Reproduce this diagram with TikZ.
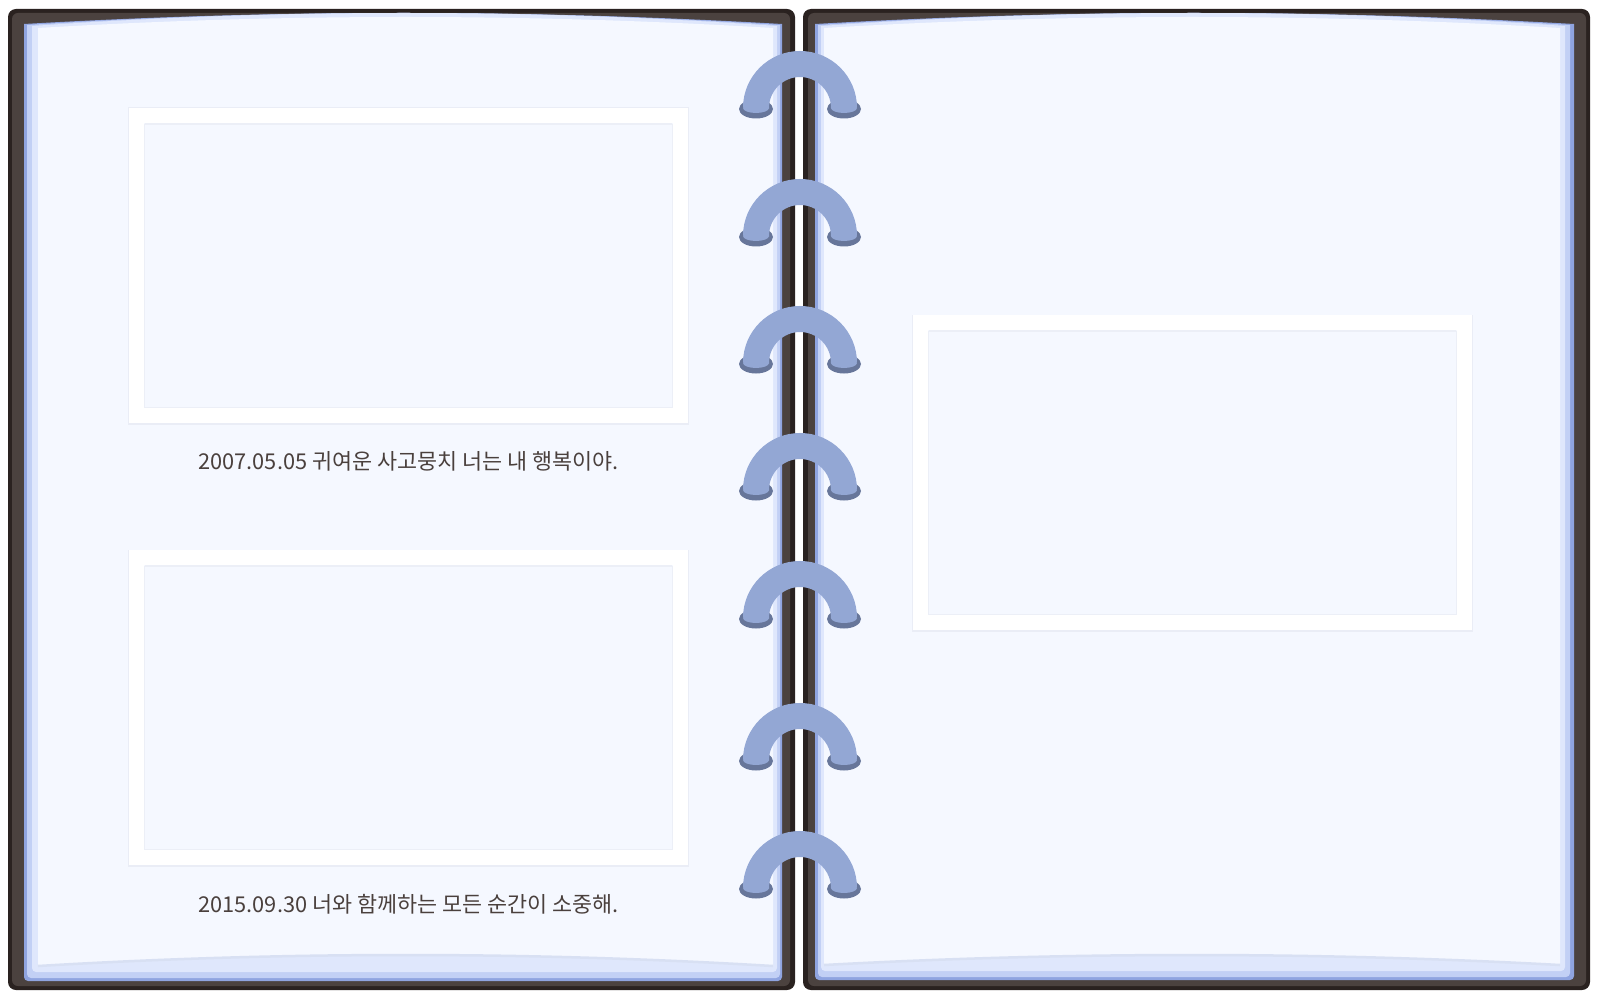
\documentclass[tikz,border=0pt]{standalone}
\usepackage{fontspec}
\newfontfamily\krfont{Noto Sans CJK KR}
\definecolor{coverdark}{HTML}{4B423F}
\definecolor{coveredge}{HTML}{2A2220}
\definecolor{pblue}{HTML}{8FA4E0}
\definecolor{pmid}{HTML}{C2D0F5}
\definecolor{plight}{HTML}{DFE7FC}
\definecolor{paper}{HTML}{F5F8FF}
\definecolor{pedge}{HTML}{D8E0F3}
\definecolor{ringc}{HTML}{93A7D4}
\definecolor{ringend}{HTML}{67769A}
\definecolor{inkc}{HTML}{4A403D}
\definecolor{fshadow}{HTML}{EAEDF6}
\definecolor{ishadow}{HTML}{ECEFF7}
\newcommand\mylayer[6]{%
  \pgfmathsetmacro\myCy{#3+4/3*(#4-#3)}%
  \pgfmathsetmacro\myCxa{#1+(#2-#1)/3}%
  \pgfmathsetmacro\myCxb{#1+2*(#2-#1)/3}%
  \fill[#6] (#1,#3) .. controls (\myCxa,\myCy) and (\myCxb,\myCy) .. (#2,#3)
     [rounded corners=4] -- (#2,#5) -- (#1,#5) [sharp corners] -- cycle;
}
\newcommand\mypaper[6]{%
  \pgfmathsetmacro\myCy{#3+4/3*(#4-#3)}%
  \pgfmathsetmacro\myDy{#5+4/3*(#6-#5)}%
  \pgfmathsetmacro\myCxa{#1+(#2-#1)/3}%
  \pgfmathsetmacro\myCxb{#1+2*(#2-#1)/3}%
  \fill[paper] (#1,#3) .. controls (\myCxa,\myCy) and (\myCxb,\myCy) .. (#2,#3)
     -- (#2,#5) .. controls (\myCxb,\myDy) and (\myCxa,\myDy) .. (#1,#5) -- cycle;
  \draw[pedge, line width=2.5] (#2,#5) .. controls (\myCxb,\myDy) and (\myCxa,\myDy) .. (#1,#5);
}
\tikzset{
  caption/.style={font=\krfont\fontsize{21.8}{26}\selectfont, text=inkc, inner sep=0pt, anchor=center},
  ringarc/.style={draw=ringc, line width=26},
}
\begin{document}
\begin{tikzpicture}[x=1pt,y=-1pt]
\useasboundingbox (0,0) rectangle (1600,1000);
\fill[white] (0,0) rectangle (1600,1000);
% covers
\fill[coveredge, rounded corners=8] (8,9) rectangle (795,990);
\fill[coverdark, rounded corners=6] (12,13) rectangle (790,986);
\fill[coveredge, rounded corners=8] (803,9) rectangle (1590,990);
\fill[coverdark, rounded corners=6] (808,13) rectangle (1586,986);
% left page stack
\mylayer{24}{782}{24}{13}{981}{pblue}
\mylayer{27}{780}{25}{13}{978}{pmid}
\mylayer{32}{777}{26}{13}{972}{plight}
\mypaper{38}{773}{28}{17}{966}{955}
% right page stack
\mylayer{815}{1574}{24}{13}{980}{pblue}
\mylayer{818}{1570}{25}{13}{977}{pmid}
\mylayer{821}{1565}{26}{13}{971}{plight}
\mypaper{824}{1560}{28}{17}{965}{955}
% photo frames
\foreach \fx/\fy/\fn in {129/108/ftop, 129/550/fbottom, 913/315/fright}{
  \fill[fshadow] (\fx-1,\fy-0.5) rectangle (\fx+560,\fy+316.5);
  \fill[white] (\fx,\fy) rectangle (\fx+559,\fy+315);
  \fill[paper] (\fx+15,\fy+15) rectangle (\fx+544,\fy+300);
  \draw[ishadow, line width=2] (\fx+16,\fy+16) -- (\fx+543,\fy+16);
  \draw[ishadow, line width=1.2] (\fx+15.6,\fy+16) -- (\fx+15.6,\fy+299.4) -- (\fx+543.4,\fy+299.4) -- (\fx+543.4,\fy+16);
  \coordinate (\fn) at (\fx+279.5,\fy+157.5);
}
% captions
\node[caption] (cap1) at (408.5,461) {2007.05.05 귀여운 사고뭉치 너는 내 행복이야.};
\node[caption] (cap2) at (408.5,904) {2015.09.30 너와 함께하는 모든 순간이 소중해.};
% rings
\foreach \ry in {108,236,363,490,618,760,888}{
  \fill[ringend] (756,\ry+1) ellipse [x radius=17, y radius=9.5];
  \fill[ringend] (844,\ry+1) ellipse [x radius=17, y radius=9.5];
  \fill[ringc] (756,\ry) ellipse [x radius=13, y radius=5];
  \fill[ringc] (844,\ry) ellipse [x radius=13, y radius=5];
  \draw[ringarc] (756,\ry) arc[start angle=180, end angle=360, radius=44];
}
\end{tikzpicture}
\end{document}
